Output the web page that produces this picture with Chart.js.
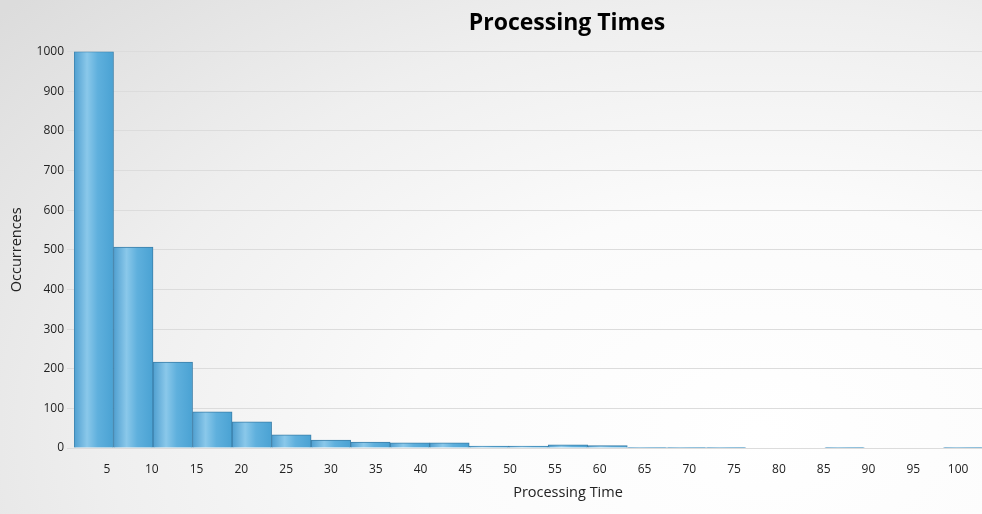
<!DOCTYPE html>
<html>
<head>
<meta charset="utf-8">
<script src="https://cdn.jsdelivr.net/npm/chart.js@4.4.1/dist/chart.umd.min.js"></script>
<style>
  html, body { margin: 0; padding: 0; overflow: hidden; }
  body {
    width: 982px; height: 514px;
    background: radial-gradient(ellipse 1000px 640px at 760px 430px, #ffffff 0%, #fbfbfb 35%, #efefef 65%, #dcdcdc 100%);
  }
  /* the original chart is wider than the window and gets cropped on the right */
  #wrap { position: relative; width: 1134px; height: 514px; }
</style>
</head>
<body>
<div id="wrap"><canvas id="histChart"></canvas></div>
<script>
// histogram bins (start of each bin); the last two fall outside the visible window
const bins = ['1.3', '5.7', '10.1', '14.5', '18.9', '23.4', '27.8', '32.2', '36.6', '41.0',
  '45.4', '49.8', '54.2', '58.6', '63.0', '67.5', '71.9', '76.3', '80.7', '85.1',
  '89.5', '93.9', '98.3', '102.7', '107.1'];
const occurrences = [1000, 507, 217, 91, 66, 33, 20, 15, 13, 13,
  5, 5, 8, 6, 1, 1, 1, 0, 0, 1, 0, 0, 1];
const timeTicks = [5, 10, 15, 20, 25, 30, 35, 40, 45, 50,
  55, 60, 65, 70, 75, 80, 85, 90, 95, 100, 105, 110];
const yTicks = [0, 100, 200, 300, 400, 500, 600, 700, 800, 900, 1000];

const FONT = '"Open Sans", "Noto Sans", sans-serif';

// each bar gets its own left-to-right shine
function barFill(ctx) {
  const chart = ctx.chart;
  const scale = chart.scales.bins;
  if (!chart.chartArea || !scale) return '#5aaedb';
  const w = scale.width / bins.length;
  const x0 = scale.getPixelForValue(ctx.dataIndex) - w / 2;
  const g = chart.ctx.createLinearGradient(x0, 0, x0 + w, 0);
  g.addColorStop(0, '#4f9fd0');
  g.addColorStop(0.33, '#8ac8ea');
  g.addColorStop(0.6, '#5fb0dd');
  g.addColorStop(1, '#4aa2d3');
  return g;
}

new Chart(document.getElementById('histChart'), {
  type: 'bar',
  data: {
    labels: bins,
    datasets: [{
      data: occurrences,
      xAxisID: 'bins',
      backgroundColor: barFill,
      borderColor: '#3b7fa9',
      borderWidth: 1,
      barPercentage: 1,
      categoryPercentage: 1,
    }]
  },
  options: {
    responsive: true,
    maintainAspectRatio: false,
    animation: false,
    layout: { padding: 0 },
    plugins: {
      legend: { display: false },
      tooltip: { enabled: false },
      title: {
        display: true,
        text: 'Processing Times',
        color: '#000',
        font: { family: FONT, size: 23, weight: 'bold', lineHeight: 1.2 },
        padding: { top: 10, bottom: 14 },
      }
    },
    scales: {
      bins: {
        type: 'category',
        display: false,
        offset: true,
      },
      x: {
        type: 'linear',
        position: 'bottom',
        offset: false,
        min: 1.32,
        max: 111.6,
        afterBuildTicks: axis => { axis.ticks = timeTicks.map(v => ({ value: v })); },
        afterFit: axis => { axis.height = 66; },
        grid: { display: false },
        border: { display: false },
        ticks: { color: '#222', font: { family: FONT, size: 12 }, padding: 6, maxRotation: 0, autoSkip: false },
        title: {
          display: true, text: 'Processing Time', color: '#222',
          font: { family: FONT, size: 14.5 }, padding: { top: 0, bottom: 12 },
        }
      },
      y: {
        min: 0,
        max: 1000,
        afterBuildTicks: axis => { axis.ticks = yTicks.map(v => ({ value: v })); },
        afterFit: axis => { axis.width = 74; },
        grid: { color: '#dcdcdc', tickLength: 7, lineWidth: 1 },
        border: { display: false },
        ticks: { color: '#222', font: { family: FONT, size: 12 }, padding: 3, callback: v => String(v) },
        title: {
          display: true, text: 'Occurrences', color: '#222',
          font: { family: FONT, size: 14.5 }, padding: { top: 8, bottom: 0 },
        }
      },
      // empty strip on the right, keeps the plot off the canvas edge
      yRight: {
        type: 'linear',
        position: 'right',
        min: 0,
        max: 1000,
        afterFit: axis => { axis.width = 72; },
        grid: { display: false },
        border: { display: false },
        ticks: { display: false },
      }
    }
  }
});
</script>
</body>
</html>
